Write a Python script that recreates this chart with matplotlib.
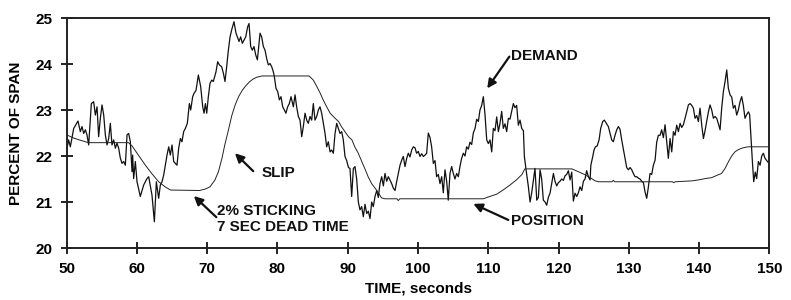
import matplotlib
matplotlib.use("Agg")
import matplotlib.pyplot as plt

# Demand signal (time s, percent of span)
demand_pts = [
    (50.05, 22.17), (50.28, 22.35), (50.52, 22.2), (51.0, 22.6), (51.61, 22.76),
    (51.94, 22.53), (52.18, 22.64), (52.42, 22.49), (52.66, 22.57), (52.89, 22.46),
    (53.13, 22.24), (53.51, 23.14), (53.84, 23.18), (54.08, 22.89), (54.32, 23.07),
    (54.55, 22.42), (54.79, 22.82), (55.03, 23.11), (55.27, 22.89), (55.5, 22.46),
    (55.74, 22.24), (55.98, 22.38), (56.21, 22.71), (56.45, 22.24), (56.69, 22.35),
    (56.93, 22.17), (57.16, 22.28), (57.4, 22.17), (57.64, 21.95), (57.87, 21.84),
    (58.11, 21.88), (58.35, 21.8), (58.59, 22.46), (58.82, 22.49), (59.06, 22.31),
    (59.3, 21.66), (59.39, 22.02), (59.53, 21.51), (59.77, 21.88), (60.01, 21.44),
    (60.48, 21.12), (60.96, 21.37), (61.43, 21.51), (61.67, 21.55), (62.14, 21.15),
    (62.48, 20.57), (62.76, 21.44), (63.09, 21.08), (63.33, 21.37), (63.57, 21.44),
    (63.81, 21.59), (64.28, 22.02), (64.52, 22.2), (64.75, 22.02), (64.99, 22.24),
    (65.23, 21.88), (65.7, 21.8), (65.94, 22.17), (66.18, 22.38), (66.41, 22.31),
    (66.65, 22.53), (66.89, 22.6), (67.17, 22.71), (67.46, 23.14), (67.65, 23.0),
    (67.93, 23.29), (68.12, 23.36), (68.41, 23.43), (68.74, 23.76), (69.07, 23.51),
    (69.36, 23.07), (69.55, 22.93), (69.74, 23.14), (69.93, 22.93), (70.16, 23.29),
    (70.4, 23.58), (70.64, 23.65), (70.87, 23.62), (71.25, 23.83), (71.49, 24.05),
    (71.73, 23.98), (72.06, 23.94), (72.3, 23.8), (72.53, 23.62), (72.77, 23.94),
    (73.01, 24.3), (73.25, 24.59), (73.48, 24.74), (73.81, 24.92), (74.1, 24.67),
    (74.29, 24.59), (74.53, 24.49), (74.76, 24.59), (75.0, 24.45), (75.24, 24.52),
    (75.48, 24.59), (75.76, 24.81), (75.95, 24.88), (76.19, 24.38), (76.42, 24.3),
    (76.66, 24.38), (76.9, 24.2), (77.14, 24.09), (77.37, 24.45), (77.52, 24.67),
    (77.75, 24.59), (77.99, 24.38), (78.23, 24.3), (78.46, 24.12), (78.7, 23.98),
    (78.94, 24.01), (79.18, 23.94), (79.41, 23.83), (79.56, 23.72), (79.79, 23.47),
    (80.03, 23.4), (80.27, 23.22), (80.5, 23.29), (80.74, 23.07), (80.98, 23.0),
    (81.2, 22.93), (81.45, 23.07), (81.69, 23.14), (81.93, 23.29), (82.26, 23.07),
    (82.5, 23.33), (82.73, 23.07), (82.97, 22.86), (83.21, 22.78), (83.45, 22.42),
    (83.68, 22.64), (83.92, 22.93), (84.16, 22.78), (84.39, 22.71), (84.63, 22.86),
    (84.87, 22.78), (85.1, 23.14), (85.34, 22.78), (85.58, 22.86), (85.82, 23.0),
    (86.05, 23.07), (86.29, 22.93), (86.53, 22.71), (86.77, 22.49), (87.0, 22.2),
    (87.24, 22.31), (87.48, 22.09), (87.71, 22.13), (87.95, 22.06), (88.19, 22.49),
    (88.43, 22.71), (88.66, 22.6), (88.9, 22.49), (89.14, 22.53), (89.37, 22.35),
    (89.61, 21.99), (89.85, 21.9), (90.1, 21.75), (90.32, 21.73), (90.56, 21.12),
    (90.8, 21.73), (91.03, 21.77), (91.27, 21.5), (91.51, 21.0), (91.74, 20.83),
    (91.98, 20.9), (92.22, 20.68), (92.46, 20.95), (92.7, 20.75), (92.93, 20.8),
    (93.17, 20.64), (93.41, 21.0), (93.64, 20.9), (93.88, 21.12), (94.12, 21.25),
    (94.35, 21.1), (94.59, 21.4), (94.83, 21.55), (95.07, 21.35), (95.3, 21.62),
    (95.54, 21.45), (95.78, 21.55), (96.0, 21.48), (96.25, 21.4), (96.49, 21.3),
    (96.73, 21.25), (96.97, 21.45), (97.2, 21.62), (97.44, 21.8), (97.68, 21.91),
    (97.91, 21.99), (98.15, 21.77), (98.39, 21.95), (98.62, 22.06), (98.86, 21.98),
    (99.1, 22.13), (99.33, 22.2), (99.57, 22.18), (99.8, 22.06), (100.04, 22.1),
    (100.28, 21.99), (100.52, 22.05), (100.76, 21.99), (101.0, 22.02), (101.23, 22.06),
    (101.47, 22.5), (101.71, 22.4), (101.94, 22.2), (102.18, 21.84), (102.42, 21.9),
    (102.65, 21.55), (102.89, 21.6), (103.13, 21.4), (103.37, 21.55), (103.6, 21.2),
    (103.84, 21.7), (104.08, 21.45), (104.31, 21.04), (104.55, 21.62), (104.79, 21.77),
    (105.03, 21.62), (105.26, 21.5), (105.5, 21.62), (105.74, 21.55), (105.97, 21.77),
    (106.21, 21.95), (106.45, 22.06), (106.69, 22.0), (106.92, 22.2), (107.16, 22.15),
    (107.4, 22.3), (107.64, 22.25), (107.87, 22.5), (108.12, 22.6), (108.35, 22.8),
    (108.59, 22.75), (108.82, 23.0), (109.06, 23.1), (109.3, 23.29), (109.54, 22.89),
    (109.78, 22.35), (110.01, 22.27), (110.25, 22.35), (110.49, 22.09), (110.72, 22.6),
    (110.96, 22.55), (111.2, 22.85), (111.44, 22.53), (111.67, 22.71), (111.91, 22.97),
    (112.14, 22.6), (112.38, 22.7), (112.62, 22.53), (112.86, 22.82), (113.09, 22.8),
    (113.33, 22.97), (113.57, 23.14), (113.8, 23.05), (114.04, 23.1), (114.28, 22.67),
    (114.52, 22.78), (114.76, 22.6), (115.0, 22.55), (115.14, 21.99), (115.38, 21.7),
    (115.71, 21.33), (115.95, 21.0), (116.18, 21.2), (116.42, 21.48), (116.65, 21.73),
    (116.9, 21.04), (117.13, 21.1), (117.37, 21.7), (117.6, 21.5), (117.84, 21.04),
    (118.08, 21.0), (118.32, 20.93), (118.55, 21.1), (118.79, 21.19), (119.03, 21.41),
    (119.27, 21.62), (119.5, 21.45), (119.74, 21.35), (119.97, 21.42), (120.2, 21.45),
    (120.45, 21.5), (120.69, 21.47), (120.93, 21.57), (121.16, 21.6), (121.4, 21.68),
    (121.64, 21.48), (121.88, 21.65), (122.11, 21.02), (122.35, 21.19), (122.59, 21.12),
    (122.82, 21.2), (123.06, 21.33), (123.3, 21.25), (123.54, 21.45), (123.77, 21.5),
    (124.0, 21.68), (124.25, 21.55), (124.49, 21.48), (124.6, 21.8), (124.87, 21.99),
    (125.05, 22.13), (125.25, 22.2), (125.5, 22.22), (125.77, 22.35), (126.0, 22.6),
    (126.29, 22.75), (126.52, 22.78), (126.76, 22.72), (127.09, 22.64), (127.33, 22.49),
    (127.57, 22.35), (127.8, 22.31), (128.04, 22.45), (128.28, 22.57), (128.52, 22.64),
    (128.75, 22.58), (128.99, 22.35), (129.23, 22.15), (129.47, 21.95), (129.7, 21.75),
    (129.94, 21.7), (130.18, 21.75), (130.42, 21.7), (130.65, 21.62), (130.89, 21.55),
    (131.13, 21.55), (131.36, 21.52), (131.6, 21.5), (131.84, 21.45), (132.08, 21.42),
    (132.31, 21.22), (132.55, 21.08), (132.79, 21.33), (133.02, 21.62), (133.26, 21.6),
    (133.5, 21.8), (133.74, 21.91), (133.97, 22.3), (134.21, 22.45), (134.45, 22.45),
    (134.68, 22.57), (134.92, 22.4), (135.16, 22.68), (135.4, 22.31), (135.63, 21.95),
    (135.87, 22.38), (136.11, 22.09), (136.35, 22.53), (136.58, 22.45), (136.82, 22.67),
    (137.06, 22.53), (137.3, 22.71), (137.53, 22.62), (137.77, 22.68), (138.01, 22.82),
    (138.24, 22.96), (138.48, 23.11), (138.72, 23.14), (138.96, 23.1), (139.19, 23.04),
    (139.43, 22.82), (139.67, 22.88), (139.9, 22.75), (140.14, 23.04), (140.38, 22.67),
    (140.62, 22.38), (140.85, 22.55), (141.09, 22.75), (141.33, 22.96), (141.56, 23.11),
    (141.8, 23.0), (142.04, 22.82), (142.27, 22.86), (142.51, 22.82), (142.75, 22.7),
    (142.99, 22.57), (143.22, 23.04), (143.46, 23.4), (143.7, 23.62), (143.94, 23.87),
    (144.17, 23.47), (144.41, 23.33), (144.65, 23.28), (144.88, 23.04), (145.12, 23.1),
    (145.36, 22.89), (145.59, 23.0), (145.83, 23.18), (146.07, 23.29), (146.3, 23.1),
    (146.54, 22.82), (146.78, 22.9), (147.02, 22.96), (147.2, 22.9), (147.4, 22.38),
    (147.59, 21.88), (147.78, 21.44), (148.0, 21.65), (148.2, 21.51), (148.44, 21.88),
    (148.68, 21.8), (148.92, 22.0), (149.15, 22.06), (149.39, 21.95), (149.63, 21.9),
    (149.96, 21.84),
]

# Valve position (time s, percent of span)
position_pts = [
    (50, 22.46), (51, 22.39), (52, 22.34), (53.1, 22.29), (58.8, 22.29), (59.3, 22.22),
    (60.2, 22.02), (61.2, 21.8), (62.1, 21.62), (63.1, 21.44), (64.0, 21.33), (64.8, 21.26),
    (68.9, 21.25), (69.7, 21.28), (70.4, 21.33), (71.1, 21.48), (71.6, 21.66), (72.1, 21.95),
    (72.5, 22.24), (73.0, 22.55), (73.5, 22.88), (74.0, 23.12), (74.5, 23.3), (75.0, 23.43),
    (75.5, 23.53), (76.0, 23.61), (76.5, 23.67), (77.0, 23.71), (77.8, 23.74), (84.5, 23.74),
    (85.1, 23.65), (85.6, 23.51), (86.1, 23.36), (86.5, 23.22), (87.0, 23.07), (87.5, 22.93),
    (88.2, 22.82), (88.7, 22.75), (89.1, 22.64), (89.6, 22.53), (90.1, 22.42), (90.6, 22.35),
    (91.0, 22.2), (91.5, 22.06), (92.0, 21.88), (92.5, 21.7), (92.9, 21.55), (93.4, 21.4),
    (93.9, 21.3), (94.4, 21.19), (94.8, 21.09), (95.3, 21.07), (97.0, 21.07), (97.2, 21.03),
    (97.4, 21.07), (109.3, 21.07), (110.2, 21.12), (111.2, 21.17), (112.1, 21.26),
    (113.1, 21.37), (114.0, 21.48), (114.8, 21.6), (115.2, 21.72), (121.9, 21.72),
    (122.8, 21.66), (123.8, 21.59), (124.7, 21.51), (125.2, 21.46), (125.7, 21.44),
    (127.6, 21.44), (127.8, 21.47), (128.0, 21.44), (136.2, 21.44), (136.4, 21.42),
    (136.6, 21.44), (139.0, 21.46), (139.9, 21.48), (140.9, 21.51), (141.8, 21.53),
    (142.7, 21.59), (143.2, 21.62), (143.7, 21.73), (144.2, 21.88), (144.6, 21.99),
    (145.1, 22.09), (145.6, 22.14), (146.1, 22.17), (146.6, 22.19), (147.0, 22.2), (150, 22.2),
]

x_ticks = [50, 60, 70, 80, 90, 100, 110, 120, 130, 140, 150]
y_ticks = [20, 21, 22, 23, 24, 25]

plt.rcParams['font.family'] = ['Liberation Sans', 'DejaVu Sans']
plt.rcParams['font.weight'] = 'bold'

fig = plt.figure(figsize=(7.91, 3.0), dpi=100)
ax = fig.add_axes([0.0843, 0.1733, 0.8883, 0.7667])

demand_t, demand_y = zip(*demand_pts)
pos_t, pos_y = zip(*position_pts)
ax.plot(demand_t, demand_y, color='#111111', lw=0.9)
ax.plot(pos_t, pos_y, color='#222222', lw=0.7)

ax.set_xlim(50, 150)
ax.set_ylim(20, 25)
ax.set_xticks(x_ticks)
ax.set_yticks(y_ticks)
ax.tick_params(direction='inout', length=8, width=1.4, color='#222222',
               labelsize=11, pad=6)
for lab in ax.get_xticklabels() + ax.get_yticklabels():
    lab.set_fontweight('bold')
for s in ax.spines.values():
    s.set_linewidth(1.4)
    s.set_color('#222222')

ax.set_xlabel('TIME, seconds', fontsize=11, fontweight='bold', labelpad=4)
ax.set_ylabel('PERCENT OF SPAN', fontsize=11, fontweight='bold', labelpad=9)

arrow = dict(arrowstyle='-|>', color='#111111', lw=1.6, mutation_scale=13,
             shrinkA=0, shrinkB=0)
txt = dict(fontsize=11, fontweight='bold', color='#111111')

ax.annotate('', xy=(109.85, 23.47), xytext=(113.0, 24.16), arrowprops=arrow)
ax.text(113.3, 24.18, 'DEMAND', va='center', ha='left', **txt)

ax.annotate('', xy=(107.87, 20.96), xytext=(112.85, 20.61), arrowprops=arrow)
ax.text(113.3, 20.58, 'POSITION', va='center', ha='left', **txt)

ax.annotate('', xy=(73.95, 22.06), xytext=(76.55, 21.67), arrowprops=arrow)
ax.text(77.75, 21.64, 'SLIP', va='center', ha='left', **txt)

ax.annotate('', xy=(68.1, 21.13), xytext=(71.3, 20.67), arrowprops=arrow)
ax.text(71.35, 20.81, '2% STICKING', va='center', ha='left', **txt)
ax.text(71.35, 20.46, '7 SEC DEAD TIME', va='center', ha='left', **txt)

fig.savefig('out.png', dpi=100)
